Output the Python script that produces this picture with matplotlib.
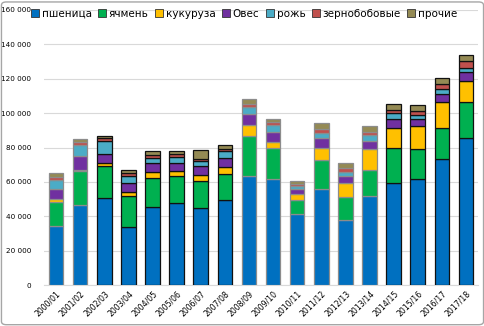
import matplotlib
matplotlib.use("Agg")
import matplotlib.pyplot as plt
from matplotlib.patches import FancyBboxPatch
import numpy as np

seasons = ["2000/01", "2001/02", "2002/03", "2003/04", "2004/05", "2005/06",
           "2006/07", "2007/08", "2008/09", "2009/10", "2010/11", "2011/12",
           "2012/13", "2013/14", "2014/15", "2015/16", "2016/17", "2017/18"]

wheat   = [34500, 46700, 50400, 34000, 45400, 47900, 45000, 49600, 63500,
           61800, 41500, 56000, 37600, 51900, 59500, 61800, 73400, 85600]
barley  = [13900, 19500, 19100, 17800, 17000, 15600, 15600, 15250, 23000,
           17800,  8100, 17000, 13500, 15250, 20500, 17400, 18000, 20700]
corn    = [ 1350,  1000,  1350,  2500,  3500,  2900,  3300,  3700,  6600,
            3500,  3300,  6950,  8100, 11800, 11200, 13300, 15100, 12200]
oats    = [ 6200,  7900,  5600,  5200,  5200,  4800,  5400,  5400,  6400,
            6000,  3100,  5600,  4200,  4600,  5400,  4250,  4600,  5400]
rye     = [ 5400,  6400,  7100,  4050,  2900,  3300,  2700,  3900,  4050,
            4050,  1350,  2700,  2300,  3700,  3300,  1950,  2900,  2300]
legumes = [ 1200,  1900,  1700,  1550,  1500,  1700,  1550,  1350,  1900,
            1550,  1150,  2300,  2100,  1700,  1900,  2500,  3100,  4400]
other   = [ 2700,  1500,  1350,  1900,  2500,  1700,  4800,  2100,  2500,
            2100,  2300,  3700,  3100,  3500,  3300,  3500,  3500,  3100]

series_names = ["пшеница", "ячмень", "кукуруза", "Овес", "рожь", "зернобобовые", "прочие"]
series_vals = [wheat, barley, corn, oats, rye, legumes, other]
colors = ["#0070C0", "#00B050", "#FFC000", "#7030A0", "#4BACC6", "#C0504D", "#948A54"]
edge_cols = ["#8c8c8c", "#8c8c8c", "#111111", "#111111", "#111111", "#111111",
             "#111111", "#111111", "#8c8c8c", "#8c8c8c", "#8c8c8c", "#8c8c8c",
             "#8c8c8c", "#8c8c8c", "#111111", "#111111", "#111111", "#111111"]

fig = plt.figure(figsize=(4.85, 3.26), dpi=100)
ax = fig.add_axes([44/485, 41/326, 434/485, 275/326])

x = np.arange(len(seasons))
bottom = np.zeros(len(seasons))
for name, vals, c in zip(series_names, series_vals, colors):
    v = np.array(vals, dtype=float)
    ax.bar(x, v, width=0.6, bottom=bottom, color=c, edgecolor=edge_cols,
           linewidth=0.9, label=name, zorder=3)
    bottom += v

ax.set_xlim(-0.5, len(seasons) - 0.5)
ax.set_ylim(0, 160000)
yt = np.arange(0, 160001, 20000)
ax.set_yticks(yt)
ax.set_yticklabels([f"{v:,}".replace(",", " ") for v in yt], fontsize=5.2)
ax.set_xticks(x)
ax.set_xticklabels(seasons, rotation=45, ha="right", rotation_mode="anchor", fontsize=5.6)
ax.tick_params(axis="y", length=0, pad=9)
ax.tick_params(axis="x", length=0, pad=3)
ax.grid(axis="y", color="#d9d9d9", linewidth=0.8, zorder=0)
for s in ["top", "right", "left"]:
    ax.spines[s].set_visible(False)
ax.spines["bottom"].set_color("#d9d9d9")
ax.spines["bottom"].set_linewidth(0.8)

leg = fig.legend(loc="center", bbox_to_anchor=(244/485, 1 - 14/326), ncol=7,
                 frameon=False, fontsize=7.5, handlelength=0.8, handleheight=0.8,
                 handletextpad=0.25, columnspacing=0.6, borderaxespad=0)
for h in leg.legend_handles:
    h.set_edgecolor("#333333")
    h.set_linewidth(0.6)

border = FancyBboxPatch((0.003, 0.004), 0.994, 0.99, boxstyle="round,pad=0,rounding_size=0.01",
                        transform=fig.transFigure, facecolor="none", edgecolor="#a6a6a6",
                        linewidth=1.0)
fig.patches.append(border)

fig.savefig("out.png", dpi=100)
